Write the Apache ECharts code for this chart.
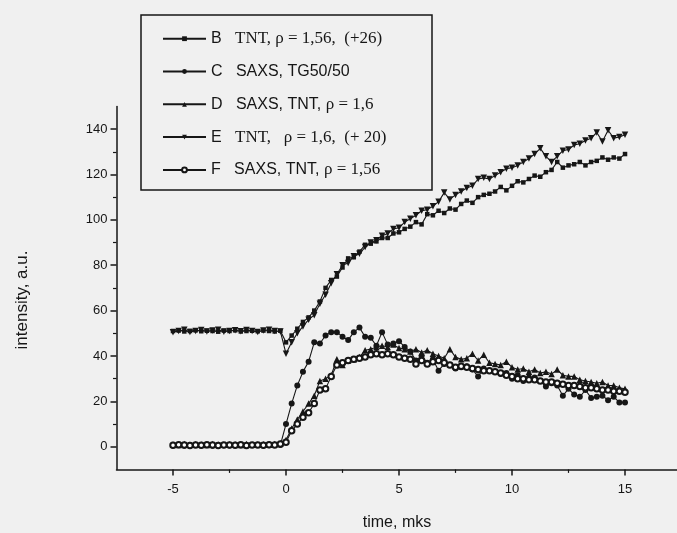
<!DOCTYPE html>
<html><head><meta charset="utf-8">
<script src="https://cdn.jsdelivr.net/npm/echarts@6/dist/echarts.min.js"></script>
<style>html,body{margin:0;padding:0;background:#f0f0f0}#c{width:677px;height:533px}</style>
</head><body><div id="c"></div>
<script>
// time, mks
const time = [-5,-4.75,-4.5,-4.25,-4,-3.75,-3.5,-3.25,-3,-2.75,-2.5,-2.25,-2,-1.75,-1.5,-1.25,-1,-0.75,-0.5,-0.25,
  0,0.25,0.5,0.75,1,1.25,1.5,1.75,2,2.25,2.5,2.75,3,3.25,3.5,3.75,4,4.25,4.5,4.75,5,5.25,5.5,5.75,6,6.25,6.5,6.75,
  7,7.25,7.5,7.75,8,8.25,8.5,8.75,9,9.25,9.5,9.75,10,10.25,10.5,10.75,11,11.25,11.5,11.75,12,12.25,12.5,12.75,
  13,13.25,13.5,13.75,14,14.25,14.5,14.75,15];

const seriesB = [51,51.2,50.8,51,51.3,50.9,51.1,51,50.7,51.2,51,51.3,50.8,51,51.1,50.9,51.2,51,50.8,51.1,
  46,49,52,55,57,60,64,70,73.5,75,79,83,83.5,86,89,89.5,90.5,92,92,94,94.5,96,97,99,98,102.5,102,104,
  103,105,104.5,107,108.5,107.5,110,111,111.5,112.5,114.5,113,115,117,116.5,118,119.5,119,121,122,
  125.5,123,124,124.5,125.5,124,125.5,126,127.5,126.5,127.5,127,129];

const seriesC = [0.5,0.8,0.4,0.6,0.9,0.5,0.7,0.4,0.8,0.6,0.5,0.9,0.6,0.4,0.7,0.8,0.5,0.6,0.9,0.7,
  10,19,27,33,37.5,46,45.5,49,50.5,50.5,48.5,47,50.5,52.5,48.5,48,44.5,50.5,45,45.5,46.5,44,42,38,40,37,38.5,33.5,
  36.5,36,34.5,35,35.5,34,31,34.5,33.5,33,32,32.5,30,31.5,29,30.5,30.5,29,26.5,28,27,22.5,25.5,23,
  22,25,21.5,22,22.5,20.5,22,19.5,19.5];

const seriesD = [1,0.8,1.2,0.9,1.1,1,0.8,1.2,1,0.9,1.1,1,0.8,1.2,0.9,1,1.1,0.9,1.2,1.5,
  3,8,12,15.5,19,22.5,29,30,31.5,38.5,36,38,38.5,39.5,42.5,43,44,44.5,44,45,43.5,43,42,43,41.5,42.5,41,40,
  39,43,39.5,38.5,39,41,38,40.5,37,36.5,36,37.5,35,34,34.5,33,34,32.5,33,32,34,31.5,31,31,
  29.5,29,28.5,28,28.5,27,27,26,25.5];

const seriesE = [50.5,51,51.5,50.6,51,51.4,50.8,51.2,51.5,50.7,51,51.3,50.9,51.4,51,50.6,51.2,51.5,51,50.8,
  41,46,50,53,56,58,63,67,72,76,80,81,84,85,88,90,91,93,94,96,96.5,99,100.5,102,104,104.5,106,108,
  112,109,111,112.5,114,115,118,118.5,118,119.5,121,122.5,123,124,125.5,127,129,131.5,128,125.5,
  128,130.5,131,133,133.5,135,136,138.5,134.5,139.5,136,136.5,137.5];

const seriesF = [0.6,0.9,0.7,0.5,0.8,0.6,0.9,0.7,0.5,0.8,0.7,0.6,0.9,0.5,0.8,0.7,0.6,0.9,0.7,1.2,
  2,7,10,13,15,19,25,25.5,31,36,37,38,38.5,39,39.5,40.5,41,40.5,41,40.5,39.5,39,38.5,36.5,38,36.5,37.5,38,
  37,36,35,35.5,35,34.5,34,33.5,33.5,33,32.5,31.5,31,30,30,29.5,29.5,29,28.5,28.5,28,27.5,27,27,
  26.5,26,26,25.5,25,25,24.5,24.5,24];

const names = ['B  TNT, ρ = 1,56, (+26)', 'C  SAXS, TG50/50', 'D  SAXS, TNT, ρ = 1,6', 'E  TNT,  ρ = 1,6, (+ 20)', 'F  SAXS, TNT, ρ = 1,56'];
const richNames = [
  '{s|B}   {r|TNT, ρ = 1,56,  (+26)}',
  '{s|C   SAXS, TG50/50}',
  '{s|D   SAXS, TNT, }{r|ρ = 1,6}',
  '{s|E}   {r|TNT,   ρ = 1,6,  (+ 20)}',
  '{s|F   SAXS, TNT, }{r|ρ = 1,56}'
];

const xMajor = [-5, 0, 5, 10, 15];
const xMinor = [-2.5, 2.5, 7.5, 12.5];
const yMajor = [0, 20, 40, 60, 80, 100, 120, 140];
const yMinor = [10, 30, 50, 70, 90, 110, 130];

const INK = '#161616';
const downTri = 'path://M0,0 L10,0 L5,9 Z';
const styles = [
  {symbol: 'rect', size: 4.5},
  {symbol: 'circle', size: 6},
  {symbol: 'triangle', size: 6.5},
  {symbol: downTri, size: 6.5},
  {symbol: 'emptyCircle', size: 5.5}
];
const values = [seriesB, seriesC, seriesD, seriesE, seriesF];

const chart = echarts.init(document.getElementById('c'), null, {renderer: 'canvas'});
const grid = {left: 116.5, top: 106.4, width: 560.5, height: 363, outerBoundsMode: 'none'};
const fontSans = 'Liberation Sans';

const axisBase = (min, max) => ({type: 'value', min: min, max: max, splitLine: {show: false}});

chart.setOption({
  animation: false,
  backgroundColor: '#f0f0f0',
  grid: grid,
  xAxis: [
    Object.assign(axisBase(-7.5, 17.3), {
      position: 'bottom',
      axisLine: {show: true, onZero: false, lineStyle: {color: INK, width: 1.5}},
      axisTick: {show: true, customValues: xMajor, length: 6, lineStyle: {color: INK, width: 1.5}},
      axisLabel: {show: true, customValues: xMajor, margin: 14, fontFamily: fontSans, fontSize: 13, color: INK}
    }),
    Object.assign(axisBase(-7.5, 17.3), {
      position: 'bottom',
      axisLine: {show: false, onZero: false},
      axisTick: {show: true, customValues: xMinor, length: 3.5, lineStyle: {color: INK, width: 1.2}},
      axisLabel: {show: false}
    })
  ],
  yAxis: [
    Object.assign(axisBase(-10, 150), {
      position: 'left',
      axisLine: {show: true, onZero: false, lineStyle: {color: INK, width: 1.5}},
      axisTick: {show: true, customValues: yMajor, length: 6, lineStyle: {color: INK, width: 1.5}},
      axisLabel: {show: true, customValues: yMajor, margin: 9, fontFamily: fontSans, fontSize: 13, color: INK}
    }),
    Object.assign(axisBase(-10, 150), {
      position: 'left',
      axisLine: {show: false, onZero: false},
      axisTick: {show: true, customValues: yMinor, length: 3.5, lineStyle: {color: INK, width: 1.2}},
      axisLabel: {show: false}
    })
  ],
  legend: {
    orient: 'vertical', left: 162, top: 29.7, padding: 0,
    itemWidth: 43, itemHeight: 6, itemGap: 14.8,
    selectedMode: false,
    data: names,
    formatter: n => richNames[names.indexOf(n)],
    textStyle: {
      color: INK, fontFamily: fontSans, fontSize: 16, lineHeight: 18,
      rich: {
        s: {fontFamily: fontSans, fontSize: 16, color: INK, lineHeight: 18},
        r: {fontFamily: 'Liberation Serif', fontSize: 17, color: INK, lineHeight: 18}
      }
    }
  },
  graphic: [
    {type: 'rect', shape: {x: 141, y: 15, width: 291, height: 175}, style: {fill: 'none', stroke: INK, lineWidth: 1.5}, z: 10},
    {type: 'text', x: 22, y: 300, rotation: Math.PI / 2, style: {text: 'intensity, a.u.', font: '17px "Liberation Sans"', fill: INK, align: 'center', verticalAlign: 'middle'}},
    {type: 'text', x: 397, y: 523, style: {text: 'time, mks', font: '16px "Liberation Sans"', fill: INK, align: 'center', verticalAlign: 'middle'}}
  ],
  series: names.map((n, k) => ({
    name: n,
    type: 'line',
    xAxisIndex: 0, yAxisIndex: 0,
    data: time.map((t, i) => [t, values[k][i]]),
    symbol: styles[k].symbol,
    symbolSize: styles[k].size,
    showAllSymbol: true,
    lineStyle: {color: INK, width: 1.1},
    itemStyle: {color: INK, borderColor: k === 4 ? '#333' : INK, borderWidth: k === 4 ? 1.1 : 0},
    emphasis: {disabled: true}
  }))
});
</script>
</body></html>
